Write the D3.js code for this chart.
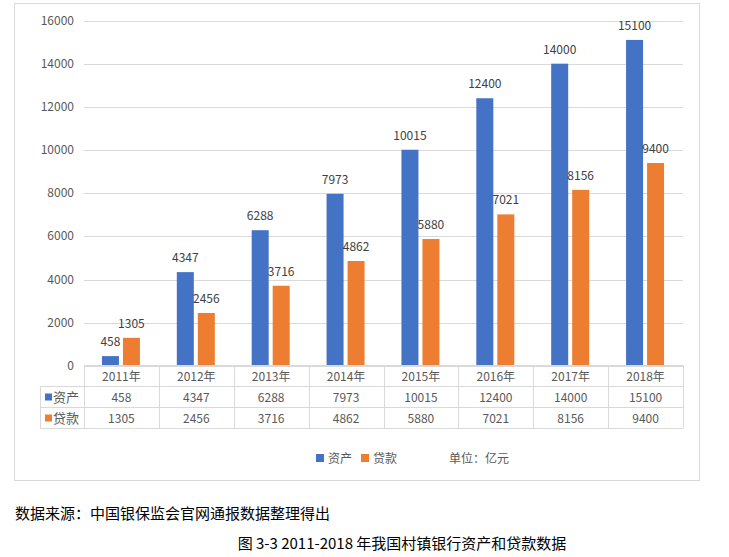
<!DOCTYPE html>
<html>
<head>
<meta charset="utf-8">
<script src="https://cdn.jsdelivr.net/npm/d3@7"></script>
<style>
  body { margin: 0; background: #fff; }
  svg text { font-family: "Noto Sans CJK SC", "Noto Sans", sans-serif; }
</style>
</head>
<body>
<div id="chart"></div>
<script>
var years = ["2011年", "2012年", "2013年", "2014年", "2015年", "2016年", "2017年", "2018年"];
var assets = [458, 4347, 6288, 7973, 10015, 12400, 14000, 15100];
var loans = [1305, 2456, 3716, 4862, 5880, 7021, 8156, 9400];
var seriesNames = ["资产", "贷款"];
var colors = ["#4472C4", "#ED7D31"];
var yTicks = [0, 2000, 4000, 6000, 8000, 10000, 12000, 14000, 16000];

var W = 729, H = 557;
var plot = {left: 84, right: 683, top: 20.5, bottom: 366};
var rowH = 21;

var svg = d3.select("#chart").append("svg")
    .attr("width", W).attr("height", H);

// chart frame
svg.append("rect")
    .attr("x", 14.5).attr("y", 3.5).attr("width", 685).attr("height", 477)
    .attr("fill", "#fff").attr("stroke", "#d9d9d9");

var x = d3.scaleBand().domain(years).range([plot.left, plot.right]);
var y = d3.scaleLinear().domain([0, 16000]).range([plot.bottom, plot.top]);

// gridlines + y labels
var yAxis = svg.append("g");
yAxis.selectAll("line").data(yTicks).join("line")
    .attr("x1", plot.left).attr("x2", plot.right)
    .attr("y1", d => Math.round(y(d)) + 0.5).attr("y2", d => Math.round(y(d)) + 0.5)
    .attr("stroke", "#d9d9d9");
yAxis.selectAll("text").data(yTicks).join("text")
    .attr("x", 74).attr("y", d => y(d) + 4)
    .attr("text-anchor", "end")
    .attr("font-size", 12).attr("fill", "#595959")
    .text(d => d);

// bars
var series = [assets, loans];
var barW = 17;
var offsets = [-19.5, 1.5];
series.forEach(function(vals, s) {
    var g = svg.append("g");
    g.selectAll("rect").data(vals).join("rect")
        .attr("x", (d, i) => x(years[i]) + x.bandwidth() / 2 + offsets[s])
        .attr("y", d => y(d))
        .attr("width", barW)
        .attr("height", d => y(0) - y(d))
        .attr("fill", colors[s]);
    g.selectAll("text").data(vals).join("text")
        .attr("x", (d, i) => x(years[i]) + x.bandwidth() / 2 + offsets[s] + barW / 2)
        .attr("y", d => y(d) - 10)
        .attr("text-anchor", "middle")
        .attr("font-size", 12).attr("fill", "#404040")
        .text(d => d);
});

// data table
var tTop = plot.bottom - 0.5;
var table = svg.append("g").attr("stroke", "#d9d9d9").attr("fill", "none");
// horizontal lines
table.append("line").attr("x1", plot.left).attr("x2", plot.right)
    .attr("y1", tTop).attr("y2", tTop);
[1, 2, 3].forEach(function(r) {
    table.append("line").attr("x1", 40.5).attr("x2", plot.right)
        .attr("y1", tTop + r * rowH).attr("y2", tTop + r * rowH);
});
// vertical lines
years.forEach(function(yr) {
    table.append("line").attr("x1", Math.round(x(yr)) + 0.5).attr("x2", Math.round(x(yr)) + 0.5)
        .attr("y1", tTop).attr("y2", tTop + 3 * rowH);
});
table.append("line").attr("x1", plot.right + 0.5).attr("x2", plot.right + 0.5)
    .attr("y1", tTop).attr("y2", tTop + 3 * rowH);
table.append("line").attr("x1", 40.5).attr("x2", 40.5)
    .attr("y1", tTop + rowH).attr("y2", tTop + 3 * rowH);

var cells = svg.append("g").attr("font-size", 12).attr("fill", "#595959").attr("text-anchor", "middle");
cells.selectAll("text.cat").data(years).join("text").attr("class", "cat")
    .attr("x", d => x(d) + x.bandwidth() / 2)
    .attr("y", tTop + rowH / 2 + 4.5)
    .text(d => d);
series.forEach(function(vals, s) {
    cells.selectAll("text.v" + s).data(vals).join("text").attr("class", "v" + s)
        .attr("x", (d, i) => x(years[i]) + x.bandwidth() / 2)
        .attr("y", tTop + (s + 1) * rowH + rowH / 2 + 4.5)
        .text(d => d);
    svg.append("rect").attr("x", 45).attr("y", tTop + (s + 1) * rowH + 7)
        .attr("width", 7).attr("height", 7).attr("fill", colors[s]);
    svg.append("text").attr("x", 53).attr("y", tTop + (s + 1) * rowH + rowH / 2 + 5)
        .attr("font-size", 13).attr("fill", "#595959")
        .text(seriesNames[s]);
});

// legend
var legX = [316, 361];
seriesNames.forEach(function(n, s) {
    svg.append("rect").attr("x", legX[s]).attr("y", 454).attr("width", 8).attr("height", 8)
        .attr("fill", colors[s]);
    svg.append("text").attr("x", legX[s] + 12).attr("y", 463)
        .attr("font-size", 12).attr("fill", "#595959").text(n);
});
svg.append("text").attr("x", 449).attr("y", 463)
    .attr("font-size", 12).attr("fill", "#595959").text("单位：亿元");

// source + caption
svg.append("text").attr("x", 15).attr("y", 519)
    .attr("font-size", 15).attr("fill", "#000")
    .text("数据来源：中国银保监会官网通报数据整理得出");
svg.append("text").attr("x", 402).attr("y", 549)
    .attr("font-size", 15).attr("fill", "#000").attr("text-anchor", "middle")
    .text("图 3-3 2011-2018 年我国村镇银行资产和贷款数据");
</script>
</body>
</html>
